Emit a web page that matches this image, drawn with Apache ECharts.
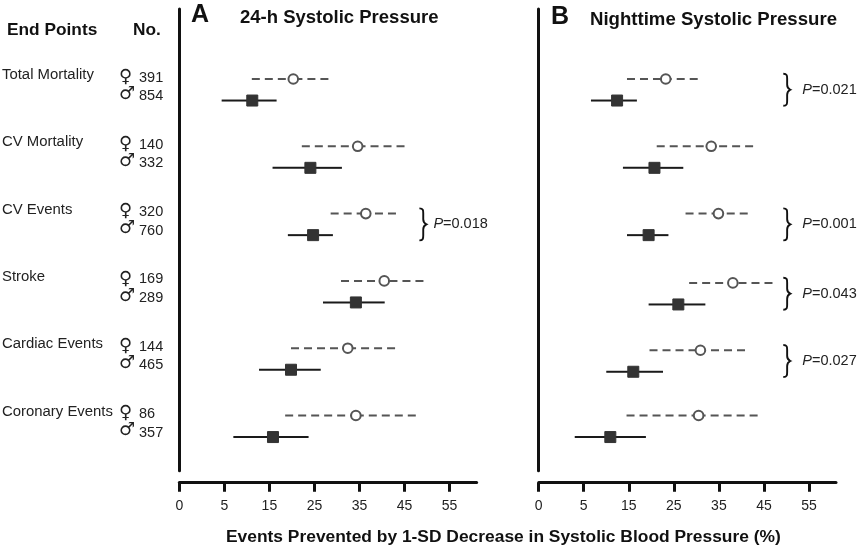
<!DOCTYPE html>
<html><head><meta charset="utf-8">
<style>html,body{margin:0;padding:0;background:#fff}#c{width:860px;height:549px}</style>
<script src="https://cdn.jsdelivr.net/npm/echarts@6/dist/echarts.min.js"></script>
</head><body><div id="c"></div>
<script>
const endPoints = ['Total Mortality','CV Mortality','CV Events','Stroke','Cardiac Events','Coronary Events'];
const femaleN = [391,140,320,169,144,86];
const maleN = [854,332,760,289,465,357];
const tickLabels = ['0','5','15','25','35','45','55'];
// [low, mean, high] as read against the printed axis labels
const aFemale = [[11.1,20.3,28.1],[22.2,34.6,45],[28.6,36.4,43.1],[30.9,40.5,49.2],[19.8,32.4,42.9],[18.5,34.2,47.5]];
const aMale   = [[4.7,11.2,16.6],[15.7,24.1,31.1],[19.1,24.7,29.1],[26.9,34.2,40.6],[12.7,19.8,26.4],[7,15.8,23.7]];
const bFemale = [[14.6,23.2,30.3],[21.2,33.3,42.6],[27.6,34.9,41.4],[28.4,38.1,46.9],[19.6,30.9,40.8],[14.5,30.5,43.6]];
const bMale   = [[6.6,12.4,16.8],[13.7,20.7,27.1],[14.6,19.4,23.8],[19.4,26,32],[10,16,22.6],[4,10.9,18.8]];
const aP = [null,null,'0.018',null,null,null];
const bP = ['0.021',null,'0.001','0.043','0.027',null];
const aRows = [0,1,2,3,4,5];
const bRows = [0,1,2,3.03,4.03,5];

// The printed axis is not linear: 0,5,15,25... are equally spaced.
const toAxis = v => v < 5 ? v / 5 : (v + 5) / 10;
const SANS = '"Liberation Sans", Arial, sans-serif';
const INK = '#111';

function rows(f, m, r) {
  const out = [];
  f.forEach((d, i) => out.push([toAxis(d[0]), toAxis(d[1]), toAxis(d[2]), r[i], 0]));
  m.forEach((d, i) => out.push([toAxis(d[0]), toAxis(d[1]), toAxis(d[2]), r[i] + 0.32, 1]));
  return out;
}
function renderItem(params, api) {
  const y = api.coord([0, api.value(3)])[1];
  const lo = api.coord([api.value(0), 0])[0];
  const mid = api.coord([api.value(1), 0])[0];
  const hi = api.coord([api.value(2), 0])[0];
  const male = api.value(4) === 1;
  const lineStyle = male ? { stroke: '#1a1a1a', lineWidth: 2 }
                         : { stroke: '#555', lineWidth: 2, lineDash: [8, 5] };
  const mark = male
    ? { type: 'rect', shape: { x: mid - 5.5, y: y - 5.5, width: 11, height: 11 },
        style: { fill: '#333', stroke: '#333', lineWidth: 1 } }
    : { type: 'circle', shape: { cx: mid, cy: y, r: 4.8 },
        style: { fill: '#fff', stroke: '#555', lineWidth: 2 } };
  return { type: 'group', children: [
    { type: 'line', shape: { x1: lo, y1: y, x2: mid, y2: y }, style: lineStyle },
    { type: 'line', shape: { x1: hi, y1: y, x2: mid, y2: y }, style: lineStyle },
    mark
  ] };
}
const renderBrace = braces => (params, api) => {
  const b = braces[params.dataIndex];
  const x = api.coord([b[0], 0])[0];
  const yMid = api.coord([0, b[1]])[1];
  const h = 16, w = 7, s = w * 0.55;
  const d = `M0 0 C${s} 0 ${s} 2 ${s} 5 L${s} ${h-5} C${s} ${h-2} ${w*.7} ${h-1} ${w} ${h} C${w*.7} ${h+1} ${s} ${h+2} ${s} ${h+5} L${s} ${2*h-5} C${s} ${2*h-2} ${s} ${2*h} 0 ${2*h}`;
  return { type: 'group', children: [
    { type: 'path', shape: { pathData: d, x, y: yMid - h, width: w, height: 2 * h },
      style: { fill: 'none', stroke: '#111', lineWidth: 1.9 } },
    { type: 'text', x: x + b[3], y: yMid,
      style: { text: '{p|P}{n|=' + b[2] + '}',
        rich: { p: { font: 'italic 14.5px ' + SANS, fill: '#222' }, n: { font: '14.5px ' + SANS, fill: '#222' } },
        verticalAlign: 'middle', align: 'left' } }
  ] };
};
const braceRows = (ps, r, xPos, gap) => ps.map((v, i) => v ? [xPos, r[i] + 0.16, v, gap] : null).filter(Boolean);
const gridSpec = [{ left: 179.3, name: 'Panel A', data: rows(aFemale, aMale, aRows), braces: braceRows(aP, aRows, 5.33, 14) },
                  { left: 538.7, name: 'Panel B', data: rows(bFemale, bMale, bRows), braces: braceRows(bP, bRows, 5.43, 19) }];

const graphic = [];
function txt(x, y, text, font, fill) {
  graphic.push({ type: 'text', x, y, silent: true,
    style: { text, fill: fill || INK, font, verticalAlign: 'middle' } });
}
txt(7, 30, 'End Points', 'bold 17.3px ' + SANS);
txt(133, 30, 'No.', 'bold 17.3px ' + SANS);
txt(191, 15, 'A', 'bold 25px ' + SANS);
txt(240, 18, '24-h Systolic Pressure', 'bold 18.5px ' + SANS);
txt(551, 17, 'B', 'bold 25px ' + SANS);
txt(590, 20, 'Nighttime Systolic Pressure', 'bold 18.6px ' + SANS);
txt(226, 537, 'Events Prevented by 1-SD Decrease in Systolic Blood Pressure (%)', 'bold 17.4px ' + SANS);
endPoints.forEach((name, i) => {
  const yF = 79 + 67.3 * i;
  txt(2, yF - 4, name, '14.9px ' + SANS, '#222');
  txt(119, yF - 2, '\u2640', '18px "DejaVu Sans"', '#222');
  txt(119, yF + 15, '\u2642', '18px "DejaVu Sans"', '#222');
  txt(139, yF - 1.5, String(femaleN[i]), '14.5px ' + SANS, '#222');
  txt(139, yF + 17, String(maleN[i]), '14.5px ' + SANS, '#222');
});

const chart = echarts.init(document.getElementById('c'), null, { renderer: 'canvas' });
chart.setOption({
  animation: false,
  backgroundColor: '#fff',
  grid: gridSpec.map(g => ({ left: g.left, width: 297.3, top: 9, bottom: 78.3, containLabel: false })),
  xAxis: gridSpec.map((g, i) => ({
    type: 'value', gridIndex: i, min: 0, max: 6.6, interval: 1, position: 'bottom', offset: 12,
    splitLine: { show: false },
    axisLine: { show: true, onZero: false, lineStyle: { color: INK, width: 3 } },
    axisTick: { show: true, length: 9, lineStyle: { color: INK, width: 3 }, customValues: [0,1,2,3,4,5,6] },
    axisLabel: { show: true, margin: 16, fontFamily: SANS, fontSize: 14, color: '#222',
      customValues: [0,1,2,3,4,5,6], formatter: v => tickLabels[Math.round(v)] }
  })),
  yAxis: gridSpec.map((g, i) => ({
    type: 'value', gridIndex: i, min: -1.04, max: 5.82, inverse: true,
    splitLine: { show: false }, axisTick: { show: false }, axisLabel: { show: false },
    axisLine: { show: true, onZero: false, lineStyle: { color: INK, width: 3 } }
  })),
  series: gridSpec.flatMap((g, i) => ([
    { type: 'custom', name: g.name, xAxisIndex: i, yAxisIndex: i, clip: false,
      renderItem, data: g.data, encode: { x: [0, 1, 2], y: 3 } },
    { type: 'custom', name: g.name + ' P', xAxisIndex: i, yAxisIndex: i, clip: false,
      renderItem: renderBrace(g.braces), data: g.braces.map(b => [b[0], b[1]]), encode: { x: 0, y: 1 } }
  ])),
  graphic
});
</script></body></html>
